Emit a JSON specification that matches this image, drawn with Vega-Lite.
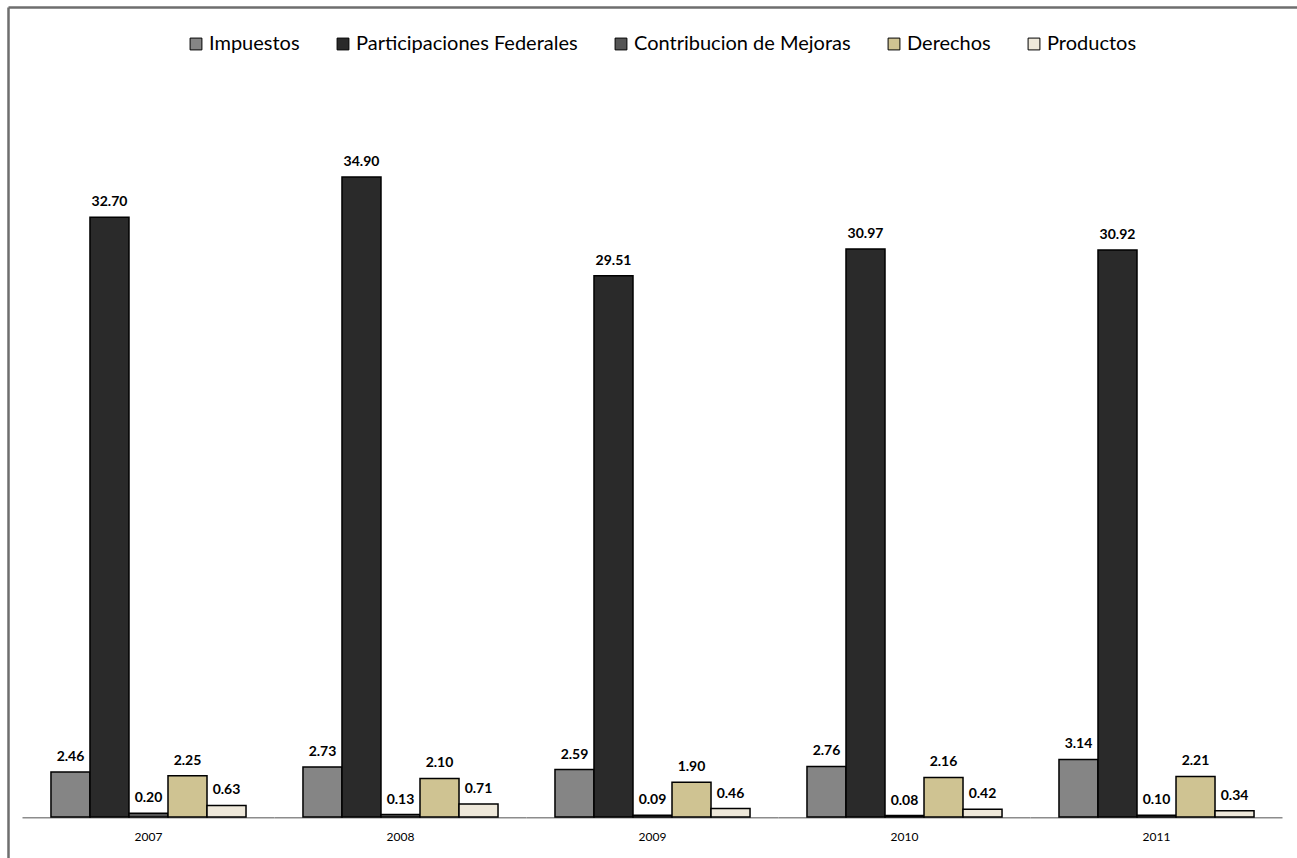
{
  "$schema": "https://vega.github.io/schema/vega-lite/v6.json",
  "width": 1289,
  "height": 851,
  "autosize": {"type": "none"},
  "padding": {"left": 8, "top": 7, "right": 0, "bottom": 0},
  "background": "white",
  "config": {
    "view": {"stroke": null},
    "font": "Lato, sans-serif"
  },
  "datasets": {
    "ingresos": [
      {"year": "2007", "tipo": "Impuestos", "valor": 2.46},
      {"year": "2007", "tipo": "Participaciones Federales", "valor": 32.70},
      {"year": "2007", "tipo": "Contribucion de Mejoras", "valor": 0.20},
      {"year": "2007", "tipo": "Derechos", "valor": 2.25},
      {"year": "2007", "tipo": "Productos", "valor": 0.63},
      {"year": "2008", "tipo": "Impuestos", "valor": 2.73},
      {"year": "2008", "tipo": "Participaciones Federales", "valor": 34.90},
      {"year": "2008", "tipo": "Contribucion de Mejoras", "valor": 0.13},
      {"year": "2008", "tipo": "Derechos", "valor": 2.10},
      {"year": "2008", "tipo": "Productos", "valor": 0.71},
      {"year": "2009", "tipo": "Impuestos", "valor": 2.59},
      {"year": "2009", "tipo": "Participaciones Federales", "valor": 29.51},
      {"year": "2009", "tipo": "Contribucion de Mejoras", "valor": 0.09},
      {"year": "2009", "tipo": "Derechos", "valor": 1.90},
      {"year": "2009", "tipo": "Productos", "valor": 0.46},
      {"year": "2010", "tipo": "Impuestos", "valor": 2.76},
      {"year": "2010", "tipo": "Participaciones Federales", "valor": 30.97},
      {"year": "2010", "tipo": "Contribucion de Mejoras", "valor": 0.08},
      {"year": "2010", "tipo": "Derechos", "valor": 2.16},
      {"year": "2010", "tipo": "Productos", "valor": 0.42},
      {"year": "2011", "tipo": "Impuestos", "valor": 3.14},
      {"year": "2011", "tipo": "Participaciones Federales", "valor": 30.92},
      {"year": "2011", "tipo": "Contribucion de Mejoras", "valor": 0.10},
      {"year": "2011", "tipo": "Derechos", "valor": 2.21},
      {"year": "2011", "tipo": "Productos", "valor": 0.34}
    ],
    "anios": [
      {"year": "2007"}, {"year": "2008"}, {"year": "2009"}, {"year": "2010"}, {"year": "2011"}
    ]
  },
  "resolve": {"axis": {"x": "independent"}},
  "layer": [
    {
      "data": {"name": "anios"},
      "mark": {"type": "bar", "color": "#8c8c8c"},
      "encoding": {
        "x": {
          "field": "year",
          "type": "nominal",
          "scale": {"paddingInner": 0, "paddingOuter": 0.0575},
          "axis": {
            "orient": "top",
            "title": null,
            "labels": false,
            "ticks": false,
            "domain": true,
            "domainColor": "#6e6e6e",
            "domainWidth": 2.5
          }
        },
        "y": {
          "datum": 0,
          "type": "quantitative",
          "scale": {"domain": [-2.236, 44.17], "nice": false, "zero": false},
          "axis": {
            "title": null,
            "labels": false,
            "ticks": false,
            "grid": false,
            "domain": true,
            "domainColor": "#6e6e6e",
            "domainWidth": 2.5
          }
        },
        "y2": {"datum": -0.08}
      }
    },
    {
      "data": {"name": "ingresos"},
      "mark": {"type": "bar", "stroke": "black", "strokeWidth": 1.5},
      "encoding": {
        "x": {
          "field": "year",
          "type": "nominal",
          "axis": {
            "orient": "bottom",
            "title": null,
            "offset": -41,
            "domain": false,
            "ticks": false,
            "labelAngle": 0,
            "labelPadding": 14,
            "labelFontSize": 12,
            "labelColor": "black"
          }
        },
        "xOffset": {
          "field": "tipo",
          "type": "nominal",
          "sort": ["Impuestos", "Participaciones Federales", "Contribucion de Mejoras", "Derechos", "Productos"],
          "scale": {"paddingInner": 0, "paddingOuter": 0.73}
        },
        "y": {"field": "valor", "type": "quantitative", "stack": null},
        "y2": {"datum": 0},
        "color": {
          "field": "tipo",
          "type": "nominal",
          "sort": ["Impuestos", "Participaciones Federales", "Contribucion de Mejoras", "Derechos", "Productos"],
          "scale": {
            "domain": ["Impuestos", "Participaciones Federales", "Contribucion de Mejoras", "Derechos", "Productos"],
            "range": ["#858585", "#2a2a2a", "#555555", "#cfc392", "#eee8da"]
          },
          "legend": {
            "title": null,
            "orient": "none",
            "legendX": 178,
            "legendY": 27,
            "direction": "horizontal",
            "symbolType": "square",
            "symbolSize": 140,
            "symbolStrokeColor": "black",
            "symbolStrokeWidth": 1,
            "labelFont": "Lato",
            "labelFontSize": 20,
            "labelLimit": 400,
            "labelColor": "black",
            "labelOffset": 3,
            "columnPadding": 33
          }
        }
      }
    },
    {
      "data": {"name": "ingresos"},
      "mark": {"type": "text", "fontSize": 14, "fontWeight": "bold", "baseline": "alphabetic", "dy": -11, "color": "black"},
      "encoding": {
        "x": {"field": "year", "type": "nominal", "axis": null},
        "xOffset": {
          "field": "tipo",
          "type": "nominal",
          "sort": ["Impuestos", "Participaciones Federales", "Contribucion de Mejoras", "Derechos", "Productos"],
          "scale": {"paddingInner": 0, "paddingOuter": 0.73}
        },
        "y": {"field": "valor", "type": "quantitative", "stack": null},
        "text": {"field": "valor", "type": "quantitative", "format": ".2f"}
      }
    }
  ]
}
